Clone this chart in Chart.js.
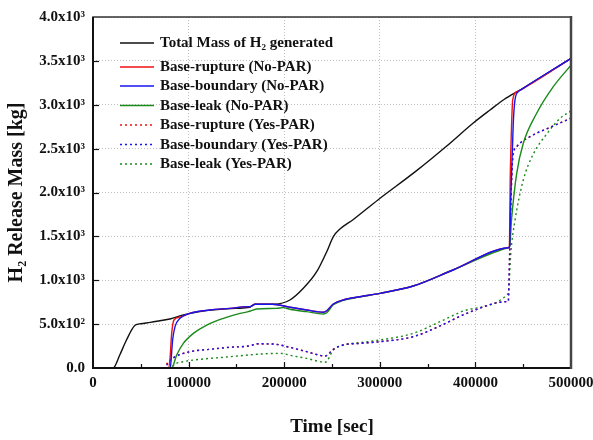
<!DOCTYPE html>
<html><head><meta charset="utf-8">
<script src="https://cdn.jsdelivr.net/npm/chart.js@4.4.0/dist/chart.umd.min.js"></script>
<style>html,body{margin:0;padding:0;background:#fff}canvas{display:block}</style>
</head><body>
<canvas id="c" width="593" height="440"></canvas>
<script>
const xTickLabels = ['0', '100000', '200000', '300000', '400000', '500000'];
const yTickLabels = ['0.0', '5.0x10\u00B2', '1.0x10\u00B3', '1.5x10\u00B3', '2.0x10\u00B3', '2.5x10\u00B3', '3.0x10\u00B3', '3.5x10\u00B3', '4.0x10\u00B3'];
const seriesLabels = ['Total Mass of H\u2082 generated', 'Base-rupture (No-PAR)', 'Base-boundary (No-PAR)', 'Base-leak (No-PAR)', 'Base-rupture (Yes-PAR)', 'Base-boundary (Yes-PAR)', 'Base-leak (Yes-PAR)'];

const totalTime = [0, 21000, 28000, 35000, 44000, 50000, 60000, 70000, 80500, 94500, 110000, 130000, 150000, 164000, 169500, 190000, 206000, 220000, 234000, 244500, 251400, 258000, 272000, 298000, 338500, 370000, 397800, 415300, 430000, 446700, 470000, 500000];
const totalMass = [0, 0, 148, 319, 487, 505, 520, 538, 558, 605, 640, 665, 680, 692, 726, 728, 775, 908, 1097, 1325, 1497, 1580, 1690, 1915, 2249, 2530, 2792, 2940, 3060, 3168, 3324, 3529];

const ruptureTime = [0, 78800, 80500, 82300, 84700, 91000, 101500, 122400, 143300, 162400, 164500, 169500, 188000, 206000, 223500, 241000, 244500, 251400, 261800, 279300, 300200, 334900, 376600, 434400, 435500, 436500, 437900, 439000, 443200, 448400, 500000];
const ruptureMass = [0, 0, 100, 395, 547, 580, 625, 661, 680, 699, 700, 726, 726, 692, 661, 635, 653, 729, 775, 812, 851, 934, 1117, 1371, 1385, 2200, 2788, 3054, 3149, 3176, 3529];

const boundaryTime = [0, 80500, 81300, 83300, 85800, 91000, 101500, 122400, 143300, 162400, 164500, 169500, 188000, 206000, 223500, 241000, 244500, 251400, 261800, 279300, 300200, 334900, 376600, 434400, 435800, 436900, 437900, 439600, 441400, 444900, 448400, 500000];
const boundaryMass = [0, 0, 40, 319, 471, 566, 623, 661, 680, 699, 700, 726, 726, 692, 661, 635, 653, 729, 775, 812, 851, 934, 1117, 1371, 1385, 1900, 2219, 2788, 3054, 3149, 3176, 3529];

const leakTime = [0, 82300, 87500, 94500, 105000, 119000, 136400, 153800, 162400, 164500, 171200, 192000, 199000, 206000, 223500, 241000, 244500, 251400, 261800, 279300, 300200, 334900, 376600, 434400, 435800, 437900, 443200, 450100, 464100, 481500, 500000];
const leakMass = [0, 0, 148, 281, 395, 490, 566, 623, 642, 650, 672, 680, 688, 669, 642, 615, 630, 720, 770, 810, 851, 934, 1117, 1371, 1385, 1706, 2219, 2561, 2903, 3206, 3450];

const ruptureParTime = [0, 73600, 78800, 85800, 101500, 122400, 143300, 162400, 167000, 171200, 188600, 206000, 223500, 243000, 251400, 261800, 279300, 300200, 335000, 363000, 390900, 432700, 434400, 435800, 436900, 438500, 439600, 443200, 457100, 478000, 500000];
const ruptureParMass = [0, 0, 72, 129, 186, 213, 236, 250, 262, 273, 273, 235, 186, 137, 213, 262, 281, 300, 357, 479, 623, 756, 760, 1300, 1800, 2300, 2439, 2522, 2636, 2742, 2850];

const boundaryParTime = [0, 74500, 79500, 85800, 101500, 122400, 143300, 162400, 167000, 171200, 188600, 206000, 223500, 243000, 251400, 261800, 279300, 300200, 335000, 363000, 390900, 432700, 434400, 435800, 436900, 438500, 439600, 443200, 457100, 478000, 500000];
const boundaryParMass = [0, 0, 72, 126, 186, 213, 236, 250, 262, 276, 273, 235, 186, 137, 213, 262, 281, 300, 357, 479, 623, 756, 760, 1300, 1800, 2300, 2439, 2522, 2636, 2742, 2845];

const leakParTime = [0, 80500, 85800, 94500, 112000, 136400, 162400, 171200, 195600, 209500, 223500, 237500, 243000, 251400, 261800, 279300, 300200, 335000, 363000, 390900, 432700, 434800, 437000, 441500, 450100, 460600, 474600, 488500, 500000];
const leakParMass = [0, 0, 46, 72, 99, 122, 148, 156, 167, 137, 110, 72, 65, 205, 262, 290, 319, 395, 528, 661, 832, 900, 1307, 1687, 2142, 2439, 2667, 2845, 2930];

const FONT = "'Liberation Serif', 'Times New Roman', serif";
const pts = (t, m) => t.map((v, i) => ({x: v, y: m[i]}));

function ds(label, t, m, color, dash, order) {
  return {
    label, data: pts(t, m), borderColor: color, backgroundColor: color,
    borderWidth: 1.4, borderDash: dash, pointRadius: 0, fill: false,
    cubicInterpolationMode: 'monotone', order
  };
}

const datasets = [
  ds(seriesLabels[0], totalTime, totalMass, '#111111', [], 5),
  ds(seriesLabels[1], ruptureTime, ruptureMass, '#ee1111', [], 3),
  ds(seriesLabels[2], boundaryTime, boundaryMass, '#1515f0', [], 2),
  ds(seriesLabels[3], leakTime, leakMass, '#1a8a1a', [], 4),
  ds(seriesLabels[4], ruptureParTime, ruptureParMass, '#ee1111', [2, 3], 7),
  ds(seriesLabels[5], boundaryParTime, boundaryParMass, '#1515f0', [2, 3], 6),
  ds(seriesLabels[6], leakParTime, leakParMass, '#1a8a1a', [2, 3], 8)
];

const decor = {
  id: 'decor',
  afterDraw(chart) {
    const ctx = chart.ctx;
    const {left, right, top, bottom} = chart.chartArea;
    const xs = chart.scales.x, ys = chart.scales.y;
    ctx.save();
    ctx.strokeStyle = '#111';
    ctx.lineWidth = 1.2;
    ctx.setLineDash([]);
    for (let v = 50000; v < 500000; v += 50000) {
      const px = Math.round(xs.getPixelForValue(v)) + 0.5;
      const len = (v % 100000 === 0) ? 6 : 4;
      ctx.beginPath(); ctx.moveTo(px, bottom); ctx.lineTo(px, bottom - len); ctx.stroke();
    }
    for (let v = 500; v < 4000; v += 500) {
      const py = Math.round(ys.getPixelForValue(v)) + 0.5;
      ctx.beginPath(); ctx.moveTo(left, py); ctx.lineTo(left + 6, py); ctx.stroke();
    }
    ctx.strokeStyle = '#333';
    ctx.lineWidth = 1.5;
    ctx.strokeRect(left, top, right - left, bottom - top);
    ctx.strokeStyle = '#111';
    ctx.lineWidth = 2;
    ctx.beginPath(); ctx.moveTo(left, top); ctx.lineTo(left, bottom); ctx.lineTo(right, bottom); ctx.stroke();
    ctx.strokeStyle = '#444';
    ctx.lineWidth = 2.5;
    ctx.beginPath(); ctx.moveTo(right, top - 1); ctx.lineTo(right, bottom + 1); ctx.stroke();
    const rows = [43, 67, 86, 105.5, 125, 144.5, 164];
    ctx.font = 'bold 15px ' + FONT;
    ctx.textBaseline = 'middle';
    ctx.textAlign = 'left';
    chart.data.datasets.forEach((d, i) => {
      const y = rows[i];
      ctx.strokeStyle = d.borderColor;
      ctx.lineWidth = d.borderWidth;
      ctx.setLineDash(d.borderDash || []);
      ctx.beginPath(); ctx.moveTo(120, y); ctx.lineTo(154, y); ctx.stroke();
      ctx.setLineDash([]);
      ctx.fillStyle = '#111';
      ctx.fillText(d.label, 160, y + 0.5);
    });
    ctx.restore();
  }
};

new Chart(document.getElementById('c'), {
  type: 'line',
  data: {datasets},
  plugins: [decor],
  options: {
    responsive: false,
    animation: false,
    devicePixelRatio: 1,
    layout: {padding: {top: 17, right: 22, left: 0, bottom: 0}},
    plugins: {legend: {display: false}, tooltip: {enabled: false}},
    scales: {
      x: {
        type: 'linear', min: 0, max: 500000,
        afterFit(s) { s.height = 72; s.paddingLeft = 0; s.paddingRight = 0; },
        ticks: {stepSize: 100000, autoSkip: false, maxRotation: 0, padding: 6, color: '#111',
          font: {family: FONT, size: 15, weight: 'bold'},
          callback: (v, i) => xTickLabels[i]},
        grid: {color: 'rgba(0,0,0,0.25)', lineWidth: 1, drawTicks: false},
        border: {display: false, dash: [1, 2]},
        title: {display: true, text: 'Time [sec]', color: '#111', padding: {top: 0, bottom: 2},
          font: {family: FONT, size: 19, weight: 'bold'}}
      },
      y: {
        type: 'linear', min: 0, max: 4000,
        afterFit(s) { s.width = 93; },
        ticks: {stepSize: 500, padding: 8, color: '#111',
          font: {family: FONT, size: 15, weight: 'bold'},
          callback: (v, i) => yTickLabels[i]},
        grid: {color: 'rgba(0,0,0,0.25)', lineWidth: 1, drawTicks: false},
        border: {display: false, dash: [1, 2]},
        title: {display: true, text: 'H\u2082 Release Mass [kg]', color: '#111', padding: {top: 5, bottom: 0},
          font: {family: FONT, size: 20, weight: 'bold'}}
      }
    }
  }
});
</script>
</body></html>
